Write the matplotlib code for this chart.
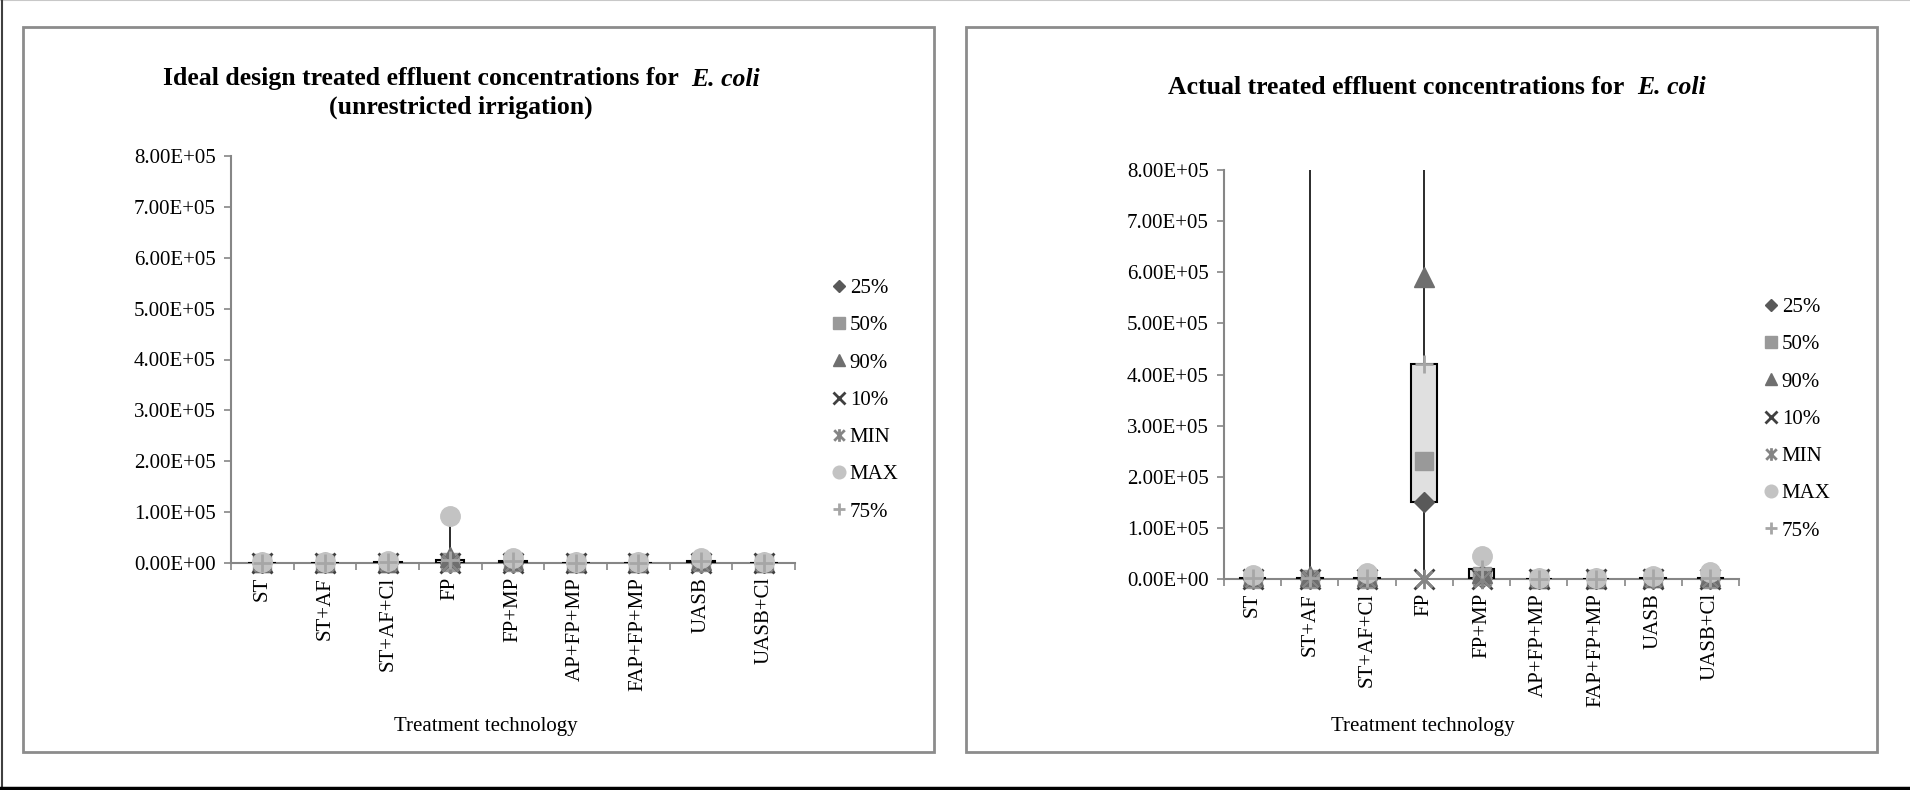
import matplotlib
matplotlib.use("Agg")
import matplotlib.pyplot as plt
from matplotlib.lines import Line2D
from matplotlib.patches import Rectangle
from matplotlib.path import Path
import numpy as np

plt.rcParams['font.family'] = ['Liberation Serif', 'DejaVu Serif']

categories = ["ST", "ST+AF", "ST+AF+Cl", "FP", "FP+MP", "AP+FP+MP", "FAP+FP+MP", "UASB", "UASB+Cl"]
series_names = ["25%", "50%", "90%", "10%", "MIN", "MAX", "75%"]

# ideal design (unrestricted irrigation)
ideal_p25 = [10, 10, 100, 100, 100, 10, 10, 100, 10]
ideal_p50 = [100, 100, 500, 1000, 1000, 100, 100, 1000, 100]
ideal_p90 = [1000, 1000, 2000, 12000, 5000, 1000, 1000, 5000, 1000]
ideal_p10 = [1, 1, 10, 10, 10, 1, 1, 10, 1]
ideal_min = [0, 0, 0, 0, 0, 0, 0, 0, 0]
ideal_max = [1500, 1500, 3000, 92000, 10000, 1500, 1500, 10000, 2000]
ideal_p75 = [500, 500, 1000, 5000, 3000, 500, 500, 3000, 500]

# actual measured
actual_p25 = [100, 100, 100, 150000, 1000, 10, 10, 100, 100]
actual_p50 = [500, 500, 500, 231000, 5000, 100, 100, 1000, 500]
actual_p90 = [5000, 5000, 5000, 590000, 12000, 1000, 1000, 4000, 5000]
actual_p10 = [10, 10, 10, 0, 100, 1, 1, 10, 10]
actual_min = [0, 0, 0, 0, 0, 0, 0, 0, 0]
actual_max = [8000, 2400000, 12000, 1500000, 45000, 1500, 1500, 5000, 14000]
actual_p75 = [2000, 1000, 2000, 420000, 19000, 500, 500, 2000, 1500]

yticks = [0, 1e5, 2e5, 3e5, 4e5, 5e5, 6e5, 7e5, 8e5]

star = Path([(-1, -1), (1, 1), (-1, 1), (1, -1), (0, -1.2), (0, 1.2)],
            [Path.MOVETO, Path.LINETO, Path.MOVETO, Path.LINETO, Path.MOVETO, Path.LINETO])

styles = [
    dict(marker="D", color="#595959", ms=10),
    dict(marker="s", color="#999999", ms=13.5),
    dict(marker="^", color="#6f6f6f", ms=14),
    dict(marker="x", color="#404040", ms=14, mew=2),
    dict(marker=star, color="#858585", ms=14, mew=2),
    dict(marker="o", color="#c3c3c3", ms=14),
    dict(marker="+", color="#a6a6a6", ms=13, mew=2),
]

fig = plt.figure(figsize=(19.1, 7.9), dpi=100)

# outer frame and panel boxes
fig.add_artist(Line2D([0, 1], [0.9995, 0.9995], color="#c8c8c8", lw=1.5))
fig.add_artist(Line2D([0.0008, 0.0008], [0, 1], color="#404040", lw=1.5))
fig.add_artist(Line2D([0, 1], [0.002, 0.002], color="#000000", lw=2.5))
fig.add_artist(Rectangle((23/1910, 1-752/790), (934-23)/1910, (752-27)/790,
                         fill=False, ec="#8c8c8c", lw=2))
fig.add_artist(Rectangle((966/1910, 1-752/790), (1877-966)/1910, (752-27)/790,
                         fill=False, ec="#8c8c8c", lw=2))


def draw_panel(rect, data, leg_xy):
    ax = fig.add_axes(rect)
    x = np.arange(len(categories))
    arr = np.array(data, dtype=float)
    lo = arr.min(axis=0)
    hi = arr.max(axis=0)
    ax.vlines(x, lo, hi, color="#1a1a1a", lw=1.3, zorder=2)
    p25 = arr[0]
    p75 = arr[6]
    ax.bar(x, p75 - p25, bottom=p25, width=0.45, color="#e0e0e0",
           edgecolor="black", linewidth=1.5, zorder=3)
    handles = []
    for vals, st, name in zip(data, styles, series_names):
        kw = dict(marker=st["marker"], color=st["color"], markersize=st["ms"],
                  markeredgewidth=st.get("mew", 1), linestyle="none")
        ax.plot(x, vals, zorder=4, clip_on=False, **kw)
        handles.append(Line2D([], [], label=name, **kw))
    ax.set_xlim(-0.5, len(categories) - 0.5)
    ax.set_ylim(0, 8e5)
    ax.set_yticks(yticks)
    ax.set_yticklabels([f"{v:.2E}" for v in yticks])
    ax.set_xticks(x)
    ax.set_xticklabels(categories, rotation=90, va="top")
    ax.set_xticks(np.arange(-0.5, len(categories)), minor=True)
    ax.tick_params(axis="x", which="major", length=0, pad=10, labelsize=15)
    ax.tick_params(axis="x", which="minor", length=5, width=1.2, color="#868686")
    ax.tick_params(axis="y", length=5, width=1.2, color="#868686", pad=6, labelsize=15)
    for s in ["top", "right"]:
        ax.spines[s].set_visible(False)
    for s in ["left", "bottom"]:
        ax.spines[s].set_color("#868686")
        ax.spines[s].set_linewidth(1.5)
    ax.spines["bottom"].set_zorder(1)
    ax.legend(handles=handles, loc="center left", bbox_to_anchor=leg_xy,
              bbox_transform=fig.transFigure, frameon=False, fontsize=15,
              handlelength=0.7, handletextpad=0.15, labelspacing=0.85,
              markerscale=0.65, borderpad=0, borderaxespad=0)
    return ax


draw_panel([231/1910, 1-563/790, (795-231)/1910, (563-156)/790],
           [ideal_p25, ideal_p50, ideal_p90, ideal_p10, ideal_min, ideal_max, ideal_p75],
           (832/1910, 1-400/790))
draw_panel([1224/1910, 1-579/790, (1739-1224)/1910, (579-170)/790],
           [actual_p25, actual_p50, actual_p90, actual_p10, actual_min, actual_max, actual_p75],
           (1764/1910, 1-419/790))

renderer = fig.canvas.get_renderer()


def title_line(xc, y, plain, ital, size=18.5):
    t1 = fig.text(0, y, plain, fontsize=size, fontweight="bold", va="center")
    t2 = fig.text(0, y, ital, fontsize=size, fontweight="bold", style="italic", va="center")
    w1 = t1.get_window_extent(renderer).width / fig.bbox.width
    w2 = t2.get_window_extent(renderer).width / fig.bbox.width
    x0 = xc - (w1 + w2) / 2
    t1.set_x(x0)
    t2.set_x(x0 + w1)


title_line(461/1910, 1-79/790, "Ideal design treated effluent concentrations for  ", "E. coli")
fig.text(461/1910, 1-107/790, "(unrestricted irrigation)", fontsize=18.5, fontweight="bold",
         ha="center", va="center")
title_line(1437/1910, 1-88/790, "Actual treated effluent concentrations for  ", "E. coli")

fig.text(486/1910, 1-726/790, "Treatment technology", fontsize=15, ha="center", va="center")
fig.text(1423/1910, 1-726/790, "Treatment technology", fontsize=15, ha="center", va="center")

fig.savefig("out.png", dpi=100)
